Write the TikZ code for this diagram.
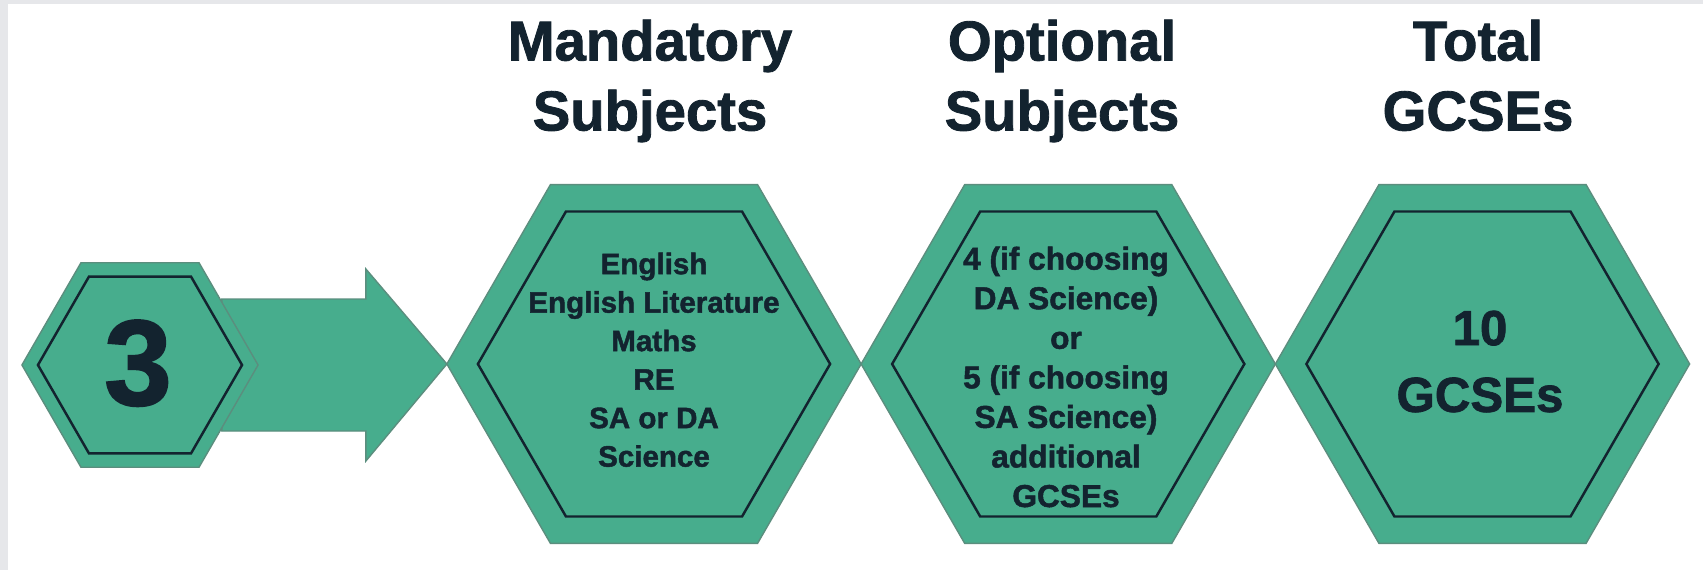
\documentclass[tikz,border=0pt]{standalone}
\usepackage{fontspec}
\setmainfont{Liberation Sans}
\newfontfamily\headfont[FakeBold=1.5]{Liberation Sans}
\usetikzlibrary{shapes.geometric,positioning}
\definecolor{hexgreen}{HTML}{47AD8D}
\definecolor{hexedge}{HTML}{5B8E7E}
\definecolor{inkblue}{HTML}{13232F}
\definecolor{pagegray}{HTML}{E6E7EA}

\begin{document}
\begin{tikzpicture}[x=0.01cm, y=-0.01cm,
  hexbase/.style={regular polygon, regular polygon sides=6, inner sep=0pt, outer sep=0pt},
  bighex/.style={hexbase, minimum size=4.14cm, fill=hexgreen, draw=hexedge, line width=0.4pt},
  bigin/.style={hexbase, minimum size=3.52cm, draw=inkblue, line width=0.7pt},
  smallhex/.style={hexbase, minimum size=2.36cm, fill=hexgreen, draw=hexedge, line width=0.4pt},
  smallin/.style={hexbase, minimum size=2.04cm, draw=inkblue, line width=0.7pt},
  title/.style={inkblue, font=\headfont\bfseries\fontsize{16}{19.9}\selectfont, align=center, inner sep=0pt, anchor=north},
  hextext/.style={inkblue, align=center, inner sep=0pt, anchor=north}]
  % page
  \fill[pagegray] (0,0) rectangle (1703,570);
  \fill[white] (8,4) rectangle (1703,570);
  \useasboundingbox (0,0) rectangle (1703,570);

  % Headings
  \node[title] (mandtitle) at (650,19) {Mandatory\\Subjects};
  \node[title] (opttitle) at (1062,19) {Optional\\Subjects};
  \node[title] (tottitle) at (1478,19) {Total\\GCSEs};

  % Big hexagons, touching point to point
  \node[bighex] (mand) at (654,364) {};
  \node[bighex, right=0pt of mand] (opt) {};
  \node[bighex, right=0pt of opt] (tot) {};
  \node[bigin] (mandin) at (mand) {};
  \node[bigin] (optin) at (opt) {};
  \node[bigin] (totin) at (tot) {};

  % Block arrow into the first hexagon
  \draw[fill=hexgreen, draw=hexedge, line width=0.4pt]
    (mand.west) -- ++(-81,97) -- ++(0,-30) -- ++(-144,0) -- ++(0,-132)
    -- ++(144,0) -- ++(0,-30) -- cycle;

  % Small hexagon on top of the arrow
  \node[smallhex] (three) at (140,365) {};
  \node[smallin] (threein) at (three) {};
  \node[inkblue, inner sep=0pt, anchor=base, font=\headfont\bfseries\fontsize{34.6}{40}\selectfont]
    (threetext) at (138,405) {3};

  % Hexagon texts
  \node[hextext, font=\headfont\bfseries\fontsize{8.4}{10.95}\selectfont] (mandtext) at (654,252)
    {English\\English Literature\\Maths\\RE\\SA or DA\\Science};
  \node[hextext, font=\headfont\bfseries\fontsize{9}{11.25}\selectfont] (opttext) at (1066,246)
    {4 (if choosing\\DA Science)\\or\\5 (if choosing\\SA Science)\\additional\\GCSEs};
  \node[hextext, font=\headfont\bfseries\fontsize{14}{19}\selectfont] (tottext) at (1480,310)
    {10\\GCSEs};
\end{tikzpicture}
\end{document}
